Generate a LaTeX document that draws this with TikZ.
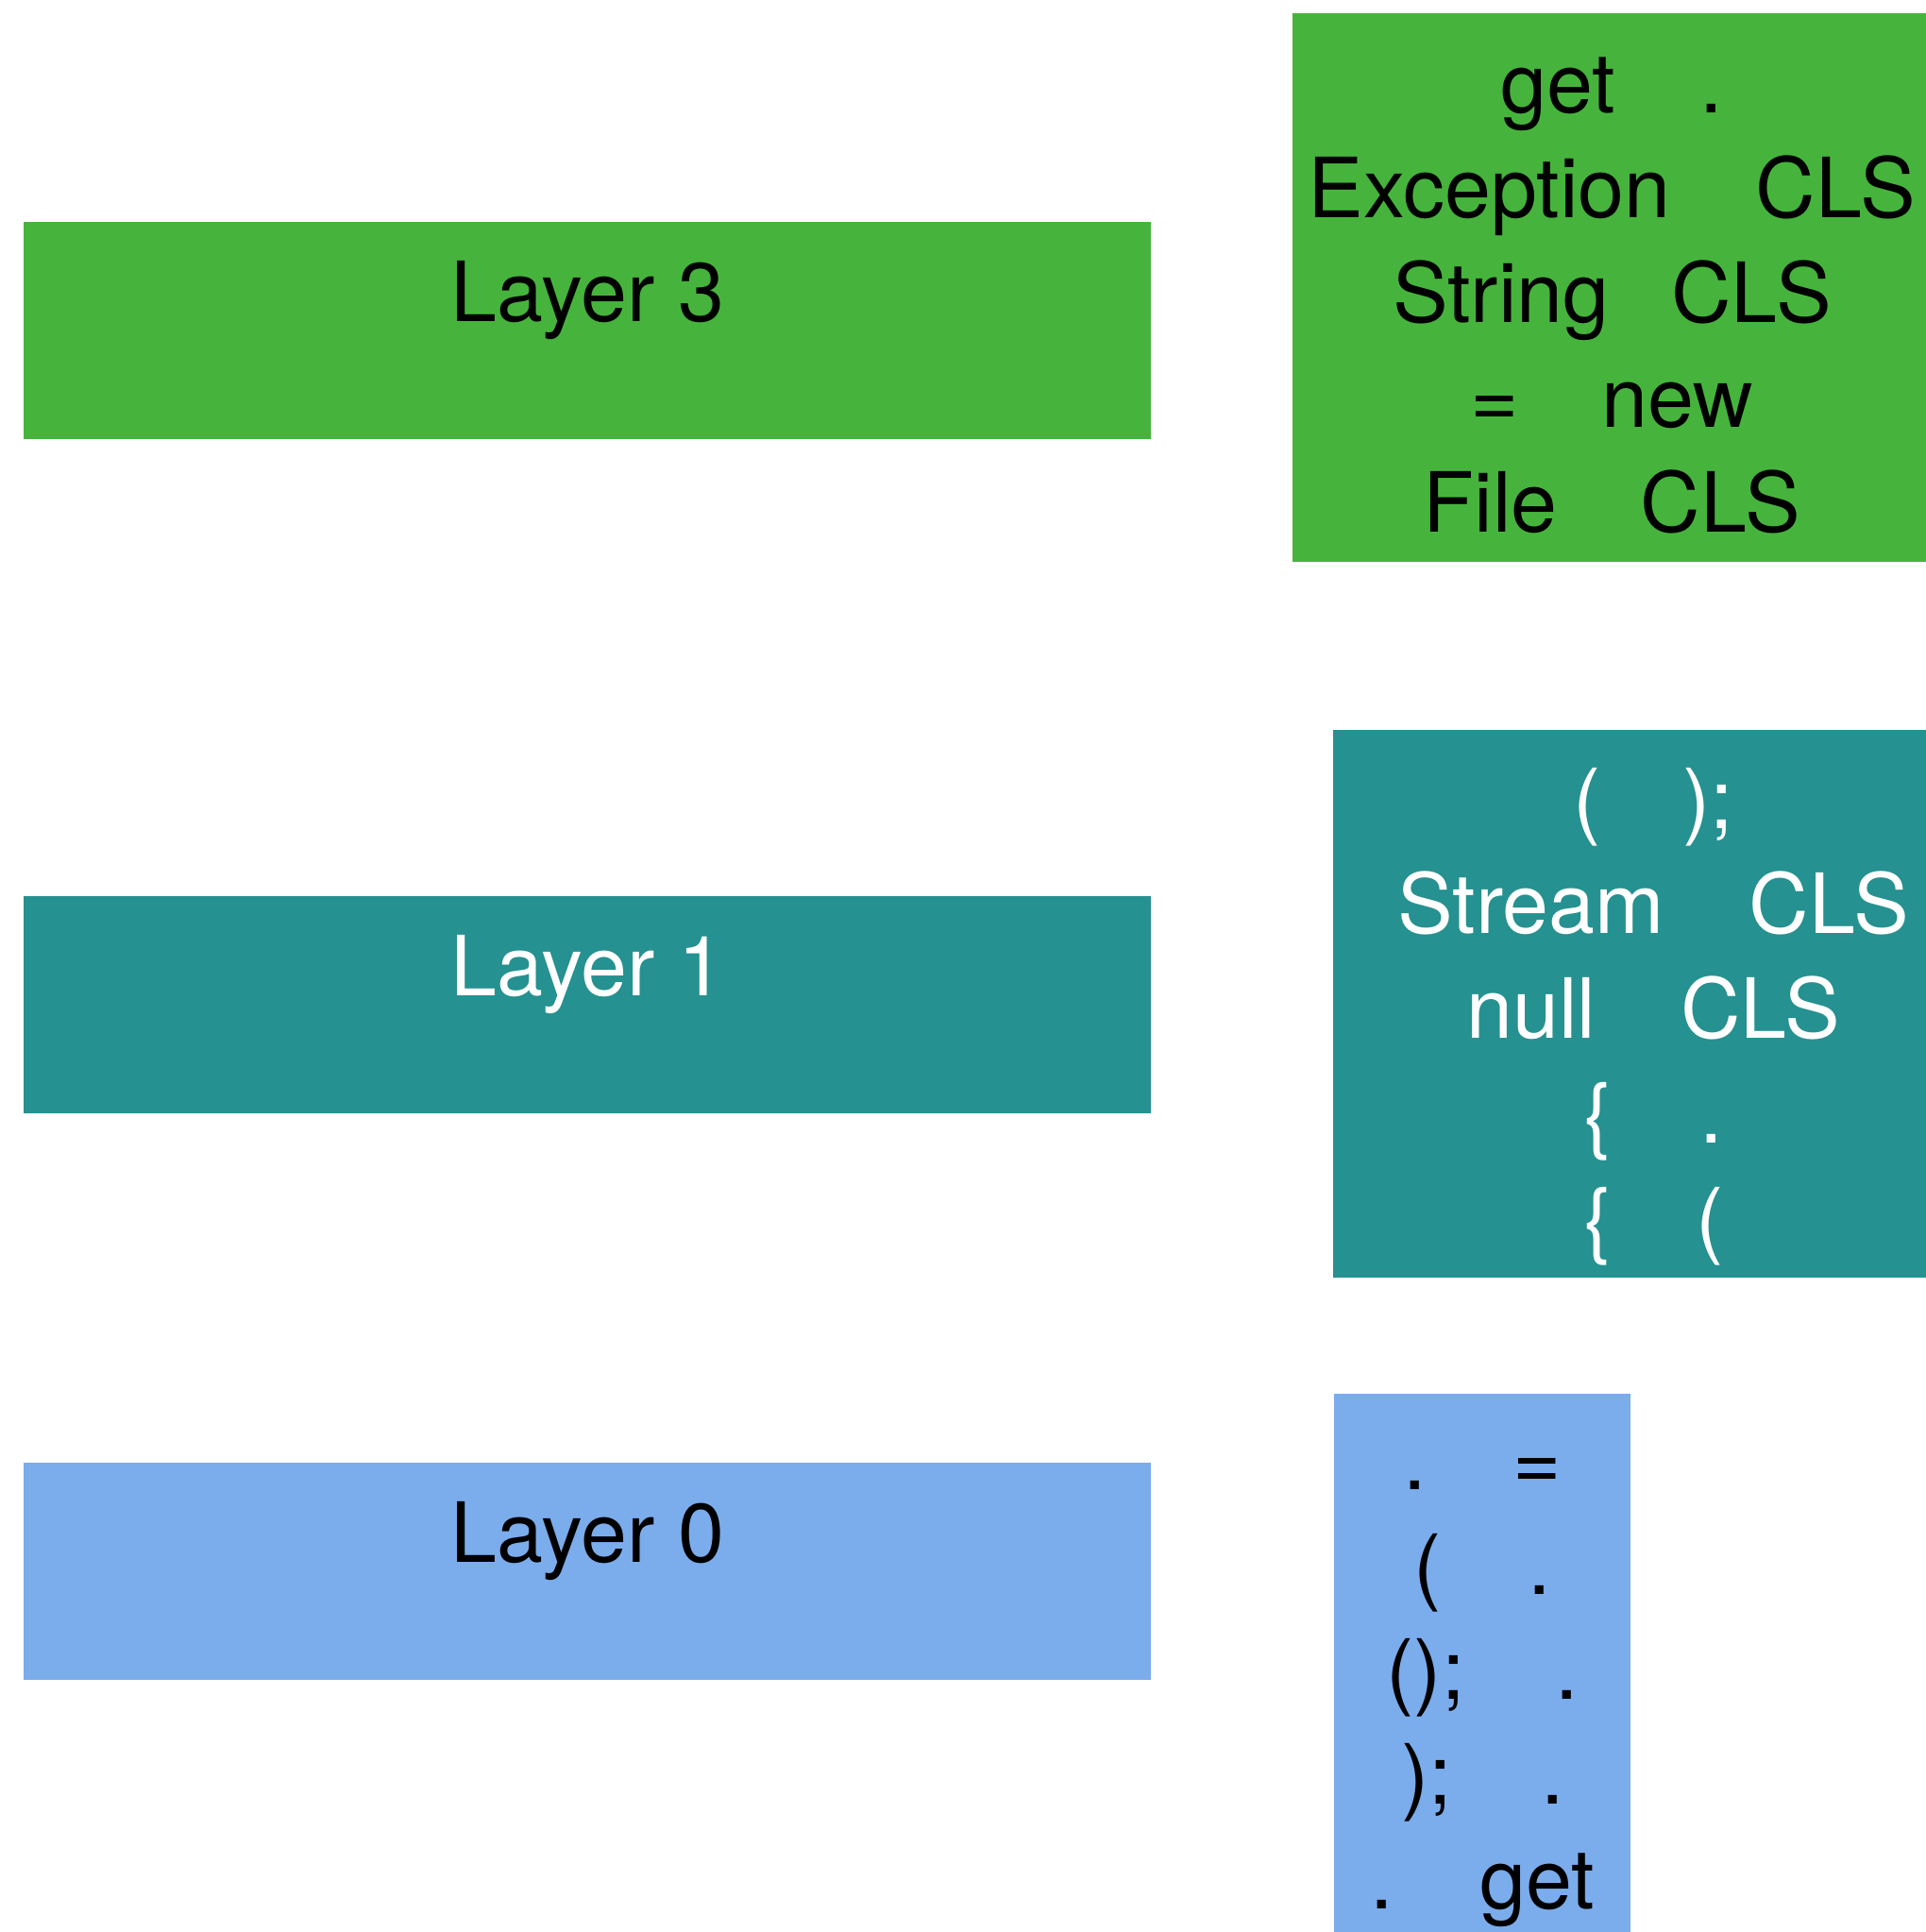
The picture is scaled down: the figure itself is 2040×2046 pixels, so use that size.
\documentclass[tikz,border=0pt]{standalone}
\usepackage{fontspec}
\setmainfont{TeX Gyre Heros}
\definecolor{lgreen}{RGB}{70,180,60}
\definecolor{lteal}{RGB}{37,145,144}
\definecolor{lblue}{RGB}{123,172,236}
\begin{document}
\begin{tikzpicture}[x=0.5pt,y=-0.5pt,
  bigfont/.style={font=\fontsize{44pt}{55.5pt}\selectfont},
  layerbox/.style={rectangle, inner sep=0pt, anchor=north west, minimum width=597pt,
    text height=52.5pt, text depth=62.5pt, bigfont},
  codebox/.style={rectangle, inner sep=0pt, anchor=north west},
  codetext/.style={inner sep=0pt, anchor=north, align=center, bigfont}]
\path[use as bounding box] (0,0) rectangle (2040,2046);
\clip (0,0) rectangle (2040,2046);

% left layer bars
\node[layerbox, fill=lgreen, text=black] (layer3) at (25,235) {Layer 3};
\node[layerbox, fill=lteal, text=white] (layer1) at (25,949) {Layer 1};
\node[layerbox, fill=lblue, text=black] (layer0) at (25,1549) {Layer 0};

% right code boxes
\node[codebox, fill=lgreen, minimum width=338pt, minimum height=290.5pt] (gbox) at (1369,14) {};
\node[codetext, text=black] (gtext) at ([yshift=-13.8pt]gbox.north) {%
\strut get\hspace{45pt}.\\
\strut Exception\hspace{45pt}CLS\\
\strut String\hspace{33pt}CLS\\
\strut =\hspace{44pt}new\\
\strut File\hspace{44pt}CLS};

\node[codebox, fill=lteal, minimum width=339pt, minimum height=290pt] (tbox) at (1412,773) {};
\node[codetext, text=white] (ttext) at ([yshift=-13.3pt]tbox.north) {%
\strut (\hspace{43pt});\\
\strut Stream\hspace{45pt}CLS\\
\strut null\hspace{45pt}CLS\\
\strut \{\hspace{47pt}.\\
\strut \{\hspace{45pt}(};

\node[codebox, fill=lblue, minimum width=157pt, minimum height=320pt] (bbox) at (1413,1476) {};
\node[codetext, text=black] (btext) at ([yshift=-11.8pt]bbox.north) {%
\strut .\hspace{46pt}=\\
\strut (\hspace{46pt}.\\
\strut ();\hspace{48pt}.\\
\strut );\hspace{47pt}.\\
\strut .\hspace{46pt}get};
\end{tikzpicture}
\end{document}
